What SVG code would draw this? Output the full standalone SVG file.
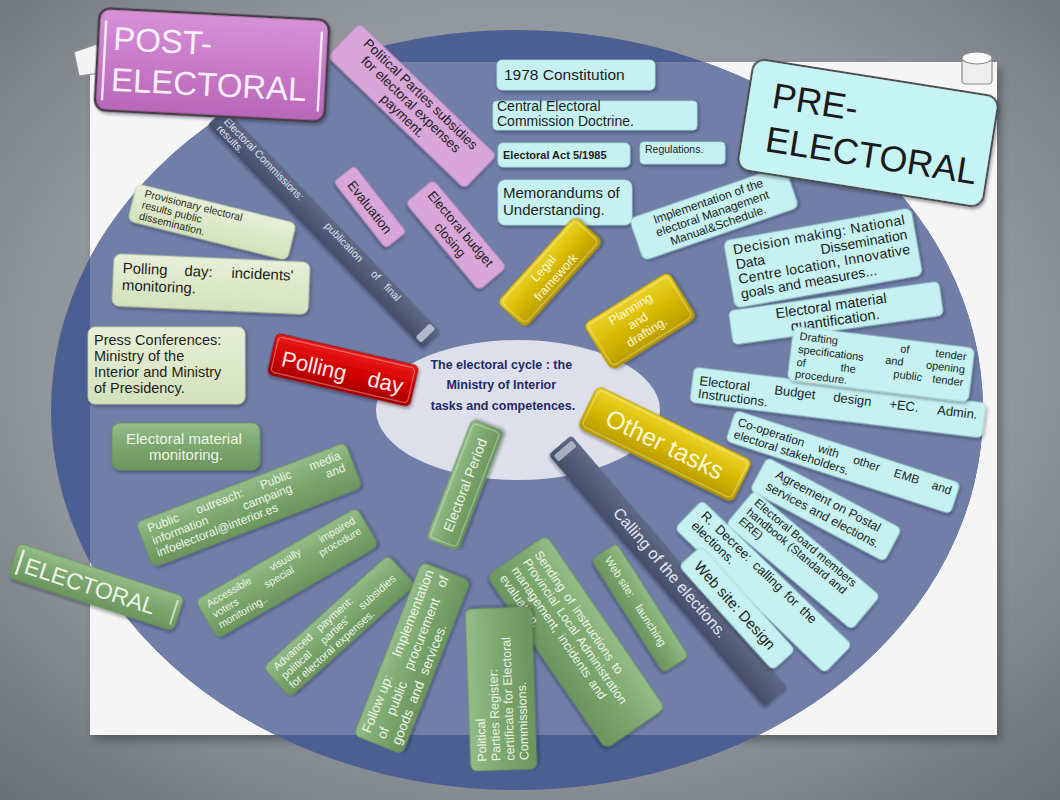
<svg xmlns="http://www.w3.org/2000/svg" width="1060" height="800" viewBox="0 0 1060 800">
<defs>
  <radialGradient id="bgGrad" cx="0.5" cy="0.45" r="0.8">
    <stop offset="0" stop-color="#b0b4ba"/>
    <stop offset="0.6" stop-color="#8f949b"/>
    <stop offset="1" stop-color="#62676e"/>
  </radialGradient>
  <clipPath id="sheetClip"><rect x="90" y="62" width="907" height="673"/></clipPath>
  <linearGradient id="gGreen" x1="0" y1="0" x2="0" y2="1">
    <stop offset="0" stop-color="#94bc87"/><stop offset="0.5" stop-color="#7ba66d"/><stop offset="1" stop-color="#6b955e"/>
  </linearGradient>
  <linearGradient id="gLight" x1="0" y1="0" x2="0" y2="1">
    <stop offset="0" stop-color="#e7f0d8"/><stop offset="1" stop-color="#d3e1bb"/>
  </linearGradient>
  <linearGradient id="gYellow" x1="0" y1="0" x2="0" y2="1">
    <stop offset="0" stop-color="#edd42c"/><stop offset="0.5" stop-color="#d6b900"/><stop offset="1" stop-color="#b89b00"/>
  </linearGradient>
  <linearGradient id="gRed" x1="0" y1="0" x2="0" y2="1">
    <stop offset="0" stop-color="#ec1c1c"/><stop offset="0.5" stop-color="#d20000"/><stop offset="1" stop-color="#a80000"/>
  </linearGradient>
  <linearGradient id="gPost" x1="0" y1="0" x2="0" y2="1">
    <stop offset="0" stop-color="#d793d7"/><stop offset="0.5" stop-color="#c87ac8"/><stop offset="1" stop-color="#b867b8"/>
  </linearGradient>
  <linearGradient id="gBar" x1="0" y1="0" x2="0" y2="1">
    <stop offset="0" stop-color="#606a88"/><stop offset="1" stop-color="#444d68"/>
  </linearGradient>
  <filter id="drop" x="-20%" y="-30%" width="140%" height="170%">
    <feDropShadow dx="1.5" dy="2" stdDeviation="1.6" flood-color="#141a30" flood-opacity="0.4"/>
  </filter>
  <filter id="sheetShadow" x="-5%" y="-5%" width="110%" height="110%">
    <feGaussianBlur stdDeviation="4"/>
  </filter>
</defs>
<style>
  .t{font-family:"Liberation Sans",Arial,Helvetica,sans-serif}
  .dk{fill:#1d1d1d}
  .wt{fill:#eef5e8}
  .cy{fill:#c5f1f0;stroke:#a6dada;stroke-width:0.8}
  .pk{fill:#d8a6d8;stroke:#c393c3;stroke-width:0.8}
  .lg{fill:url(#gLight);stroke:#c2d2a8;stroke-width:0.8}
  .gr{fill:url(#gGreen);stroke:#6a925c;stroke-width:0.8}
  .yl{fill:url(#gYellow);stroke:#a88e00;stroke-width:0.8}
  .bar{fill:url(#gBar)}
  .hl{fill:none;stroke:#ffffff;stroke-opacity:0.35;stroke-width:1.2}
</style>

<!-- backdrop and paper sheet -->
<rect width="1060" height="800" fill="url(#bgGrad)"/>
<rect x="94" y="68" width="907" height="673" fill="#2c3038" opacity="0.45" filter="url(#sheetShadow)"/>
<rect x="90" y="62" width="907" height="673" fill="#f5f5f5"/>

<!-- large disc, darker where it runs off the sheet -->
<ellipse cx="517" cy="410" rx="466" ry="380" fill="#4b5f92"/>
<ellipse cx="517" cy="410" rx="466" ry="380" fill="#707ea8" clip-path="url(#sheetClip)"/>

<!-- pins -->
<path d="M74,52 L97,44 L100,73 L79,76 Z" fill="#f3f3f3" stroke="#8d8d8d" stroke-width="1.2"/>
<g id="pin-right">
  <rect x="962" y="58" width="30" height="26" rx="4" fill="#eeeeee" stroke="#8a8a8a" stroke-width="1.2"/>
  <ellipse cx="977" cy="58" rx="15" ry="6" fill="#fafafa" stroke="#8a8a8a" stroke-width="1.2"/>
</g>

<!-- hub -->
<g id="hub">
  <ellipse cx="518" cy="410" rx="142" ry="70" fill="#dde0ea"/>
  <text class="t" font-weight="bold" font-size="12.5" fill="#1f2a66" text-anchor="middle">
    <tspan x="503" y="369">The electoral cycle : the</tspan>
    <tspan x="503" y="389">Ministry of  Interior</tspan>
    <tspan x="503" y="410">tasks and competences.</tspan>
  </text>
</g>

<!-- post-electoral branch -->
<g id="n-final-results" transform="translate(324,228) rotate(46)">
  <rect class="bar" x="-155" y="-12" width="310" height="24" rx="3" filter="url(#drop)"/>
  <rect x="142" y="-10" width="8" height="20" rx="2" fill="#c9cfdc" opacity="0.8"/>
  <g class="t" font-size="10.5" fill="#dfe3ee">
    <text x="-146" y="-1">Electoral Commissions:</text>
    <text x="24" y="-1" text-anchor="middle">publication</text>
    <text x="70" y="-1" text-anchor="middle">of</text>
    <text x="84" y="-1">final</text>
    <text x="-146" y="9">results.</text>
  </g>
</g>

<g id="n-subsidies-payment" transform="translate(412,106) rotate(44)">
  <rect class="pk" x="-95" y="-23" width="190" height="46" rx="5" filter="url(#drop)"/>
  <text class="t dk" font-size="13.5" text-anchor="middle">
    <tspan x="0" y="-10">Political Parties subsidies</tspan>
    <tspan x="0" y="4">for electoral expenses</tspan>
    <tspan x="0" y="18">payment.</tspan>
  </text>
</g>

<g id="n-evaluation" transform="translate(370,207) rotate(52)">
  <rect class="pk" x="-42" y="-13" width="84" height="26" rx="4" filter="url(#drop)"/>
  <text class="t dk" font-size="13.5" text-anchor="middle" x="0" y="5">Evaluation</text>
</g>

<g id="n-budget-closing" transform="translate(456,235) rotate(50)">
  <rect class="pk" x="-57" y="-18" width="114" height="36" rx="5" filter="url(#drop)"/>
  <text class="t dk" font-size="13" text-anchor="middle">
    <tspan x="0" y="-3">Electoral budget</tspan>
    <tspan x="0" y="12">closing</tspan>
  </text>
</g>

<g id="n-provisional-results" transform="translate(212,222) rotate(14)">
  <rect class="lg" x="-82" y="-19" width="164" height="38" rx="6" filter="url(#drop)"/>
  <text class="t" font-size="10.5" fill="#2a2a2a">
    <tspan x="-72" y="-8">Provisionary electoral</tspan>
    <tspan x="-72" y="3.5">results public</tspan>
    <tspan x="-72" y="15">dissemination.</tspan>
  </text>
</g>

<g id="n-incidents" transform="translate(211,284) rotate(2.5)">
  <rect class="lg" x="-98" y="-26" width="196" height="52" rx="7" filter="url(#drop)"/>
  <g class="t dk" font-size="15">
    <text x="-89" y="-7">Polling</text>
    <text x="-13" y="-7" text-anchor="middle">day:</text>
    <text x="82" y="-7" text-anchor="end">incidents'</text>
    <text x="-89" y="10">monitoring.</text>
  </g>
</g>

<g id="n-press">
  <rect class="lg" x="88" y="327" width="157" height="77" rx="7" filter="url(#drop)"/>
  <text class="t dk" font-size="14.5">
    <tspan x="94" y="345">Press Conferences:</tspan>
    <tspan x="94" y="361">Ministry of the</tspan>
    <tspan x="94" y="377">Interior and Ministry</tspan>
    <tspan x="94" y="393">of Presidency.</tspan>
  </text>
</g>

<!-- legal framework branch -->
<g id="n-constitution">
  <rect class="cy" x="497" y="60" width="158" height="30" rx="5" filter="url(#drop)"/>
  <text class="t dk" font-size="15.5" x="504" y="80">1978 Constitution</text>
</g>
<g id="n-doctrine">
  <rect class="cy" x="493" y="101" width="204" height="29" rx="4" filter="url(#drop)"/>
  <text class="t dk" font-size="14">
    <tspan x="497" y="111">Central Electoral</tspan>
    <tspan x="497" y="126">Commission Doctrine.</tspan>
  </text>
</g>
<g id="n-electoral-act">
  <rect class="cy" x="498" y="143" width="132" height="24" rx="5" filter="url(#drop)"/>
  <text class="t dk" font-size="11" font-weight="bold" x="503" y="159">Electoral  Act  5/1985</text>
</g>
<g id="n-regulations">
  <rect class="cy" x="640" y="142" width="85" height="22" rx="4" filter="url(#drop)"/>
  <text class="t dk" font-size="10.5" x="645" y="153">Regulations.</text>
</g>
<g id="n-mou">
  <rect class="cy" x="498" y="180" width="134" height="45" rx="7" filter="url(#drop)"/>
  <text class="t dk" font-size="15">
    <tspan x="503" y="198">Memorandums of</tspan>
    <tspan x="503" y="215">Understanding.</tspan>
  </text>
</g>
<g id="n-legal" transform="translate(550,272) rotate(-48)">
  <rect class="yl" x="-58" y="-19" width="116" height="38" rx="6" filter="url(#drop)"/>
  <rect class="hl" x="-55" y="-16" width="110" height="32" rx="5"/>
  <text class="t" font-size="12.5" fill="#fff8d8" text-anchor="middle">
    <tspan x="0" y="-3">Legal</tspan>
    <tspan x="0" y="12">framework</tspan>
  </text>
</g>

<!-- planning branch -->
<g id="n-implementation" transform="translate(714,213) rotate(-19)">
  <rect class="cy" x="-82" y="-22" width="164" height="44" rx="6" filter="url(#drop)"/>
  <text class="t dk" font-size="12" text-anchor="middle">
    <tspan x="0" y="-9">Implementation of the</tspan>
    <tspan x="0" y="4">electoral Management</tspan>
    <tspan x="0" y="17">Manual&amp;Schedule.</tspan>
  </text>
</g>
<g id="n-decision" transform="translate(823,258) rotate(-10)">
  <rect class="cy" x="-95" y="-34" width="190" height="68" rx="6" filter="url(#drop)"/>
  <g class="t dk" font-size="14">
    <text x="-87" y="-19" textLength="174" lengthAdjust="spacing">Decision making: National</text>
    <text x="-87" y="-4">Data</text>
    <text x="87" y="-4" text-anchor="end">Dissemination</text>
    <text x="-87" y="11" textLength="174" lengthAdjust="spacing">Centre location, Innovative</text>
    <text x="-87" y="26">goals and measures...</text>
  </g>
</g>
<g id="n-material-quantification" transform="translate(836,313) rotate(-8)">
  <rect class="cy" x="-106" y="-17" width="212" height="34" rx="5" filter="url(#drop)"/>
  <text class="t dk" font-size="14.5" text-anchor="middle">
    <tspan x="-2" y="-3">Electoral material</tspan>
    <tspan x="-2" y="12">quantification.</tspan>
  </text>
</g>
<g id="n-budget-design" transform="translate(838,402) rotate(7)">
  <rect class="cy" x="-147" y="-17" width="294" height="35" rx="5" filter="url(#drop)"/>
  <g class="t dk" font-size="13">
    <text x="-140" y="0">Electoral</text>
    <text x="-44" y="0" text-anchor="middle">Budget</text>
    <text x="14" y="0" text-anchor="middle">design</text>
    <text x="66" y="0" text-anchor="middle">+EC.</text>
    <text x="140" y="0" text-anchor="end">Admin.</text>
    <text x="-140" y="13">Instructions.</text>
  </g>
</g>
<g id="n-tender" transform="translate(881,364) rotate(7)">
  <rect class="cy" x="-91" y="-27" width="182" height="54" rx="6" filter="url(#drop)"/>
  <g class="t dk" font-size="11">
    <text x="-84" y="-14">Drafting</text>
    <text x="22" y="-14" text-anchor="middle">of</text>
    <text x="84" y="-14" text-anchor="end">tender</text>
    <text x="-84" y="-1">specifications</text>
    <text x="13" y="-1" text-anchor="middle">and</text>
    <text x="84" y="-1" text-anchor="end">opening</text>
    <text x="-84" y="12">of</text>
    <text x="-32" y="12" text-anchor="middle">the</text>
    <text x="28" y="12" text-anchor="middle">public</text>
    <text x="84" y="12" text-anchor="end">tender</text>
    <text x="-84" y="24">procedure.</text>
  </g>
</g>
<g id="n-planning" transform="translate(640,321) rotate(-32)">
  <rect class="yl" x="-50" y="-27" width="100" height="54" rx="6" filter="url(#drop)"/>
  <rect class="hl" x="-47" y="-24" width="94" height="48" rx="5"/>
  <text class="t" font-size="12.5" fill="#fff8d8" text-anchor="middle">
    <tspan x="0" y="-11">Planning</tspan>
    <tspan x="0" y="3">and</tspan>
    <tspan x="0" y="17">drafting.</tspan>
  </text>
</g>

<!-- other tasks branch -->
<g id="n-calling" transform="translate(668,571) rotate(49.4)">
  <rect class="bar" x="-166" y="-15" width="332" height="30" rx="4" filter="url(#drop)"/>
  <rect x="-162" y="-12" width="8" height="24" rx="2" fill="#c3c9d8" opacity="0.75"/>
  <text class="t" font-size="16" fill="#e4e7f1" x="-80" y="5">Calling of the elections.</text>
</g>
<g id="n-cooperation" transform="translate(843,462) rotate(18)">
  <rect class="cy" x="-118" y="-16" width="236" height="32" rx="5" filter="url(#drop)"/>
  <g class="t dk" font-size="12">
    <text x="-112" y="-2">Co-operation</text>
    <text x="-17" y="-2" text-anchor="middle">with</text>
    <text x="23" y="-2" text-anchor="middle">other</text>
    <text x="65" y="-2" text-anchor="middle">EMB</text>
    <text x="112" y="-2" text-anchor="end">and</text>
    <text x="-112" y="11">electoral stakeholders.</text>
  </g>
</g>
<g id="n-postal" transform="translate(826,509) rotate(28)">
  <rect class="cy" x="-76" y="-18" width="152" height="37" rx="5" filter="url(#drop)"/>
  <text class="t dk" font-size="12.5" text-anchor="middle">
    <tspan x="0" y="-4">Agreement on Postal</tspan>
    <tspan x="0" y="11">services and elections.</tspan>
  </text>
</g>
<g id="n-handbook" transform="translate(803,560) rotate(40)">
  <rect class="cy" x="-82" y="-22" width="164" height="44" rx="5" filter="url(#drop)"/>
  <text class="t dk" font-size="11.5">
    <tspan x="-74" y="-11">Electoral Board members</tspan>
    <tspan x="-74" y="1">handbook (Standard and</tspan>
    <tspan x="-74" y="13">ERE)</tspan>
  </text>
</g>
<g id="n-decree" transform="translate(763,587) rotate(44)">
  <rect class="cy" x="-104" y="-20" width="208" height="39" rx="5" filter="url(#drop)"/>
  <text class="t dk" font-size="13" word-spacing="3">
    <tspan x="-94" y="-7">R. Decree: calling for the</tspan>
    <tspan x="-94" y="7">elections.</tspan>
  </text>
</g>
<g id="n-web-design" transform="translate(737,608) rotate(48)">
  <rect class="cy" x="-70" y="-15" width="140" height="30" rx="5" filter="url(#drop)"/>
  <text class="t dk" font-size="15" x="-60" y="5">Web site: Design</text>
</g>
<g id="n-other" transform="translate(665,444) rotate(26)">
  <rect class="yl" x="-86" y="-23" width="172" height="46" rx="6" filter="url(#drop)"/>
  <rect class="hl" x="-83" y="-20" width="166" height="40" rx="5"/>
  <text class="t" font-size="25" fill="#fff8d8" text-anchor="middle" x="0" y="9">Other tasks</text>
</g>

<!-- electoral branch -->
<g id="n-polling-day" transform="translate(343,370) rotate(13)">
  <rect x="-73" y="-21" width="146" height="42" rx="5" fill="url(#gRed)" stroke="#8a0000" stroke-width="0.8" filter="url(#drop)"/>
  <rect class="hl" x="-70" y="-18" width="140" height="36" rx="4"/>
  <g class="t" font-size="22" fill="#ffecec">
    <text x="-62" y="10">Polling</text>
    <text x="62" y="10" text-anchor="end">day</text>
  </g>
</g>
<g id="n-period" transform="translate(465,485) rotate(-69)">
  <rect class="gr" x="-64" y="-17" width="128" height="34" rx="5" filter="url(#drop)"/>
  <rect class="hl" x="-61" y="-14" width="122" height="28" rx="4"/>
  <text class="t wt" font-size="14" text-anchor="middle" x="0" y="5">Electoral Period</text>
</g>
<g id="n-material-monitoring">
  <rect class="gr" x="112" y="423" width="148" height="47" rx="8" filter="url(#drop)"/>
  <text class="t wt" font-size="15" text-anchor="middle">
    <tspan x="186" y="444">Electoral material</tspan>
    <tspan x="186" y="460">monitoring.</tspan>
  </text>
</g>
<g id="n-outreach" transform="translate(249,505) rotate(-21)">
  <rect class="gr" x="-112" y="-24" width="224" height="48" rx="6" filter="url(#drop)"/>
  <g class="t wt" font-size="12">
    <text x="-103" y="-10">Public</text>
    <text x="-26" y="-10" text-anchor="middle">outreach:</text>
    <text x="34" y="-10" text-anchor="middle">Public</text>
    <text x="103" y="-10" text-anchor="end">media</text>
    <text x="-103" y="3">information</text>
    <text x="20" y="3" text-anchor="middle">campaing</text>
    <text x="103" y="3" text-anchor="end">and</text>
    <text x="-103" y="16">infoelectoral@interior.es</text>
  </g>
</g>
<g id="n-accessible" transform="translate(287,573) rotate(-30)">
  <rect class="gr" x="-93" y="-22" width="186" height="44" rx="6" filter="url(#drop)"/>
  <g class="t wt" font-size="10.5">
    <text x="-85" y="-9">Accessible</text>
    <text x="5" y="-9" text-anchor="middle">visually</text>
    <text x="85" y="-9" text-anchor="end">impaired</text>
    <text x="-85" y="3">voters</text>
    <text x="-9" y="3" text-anchor="middle">special</text>
    <text x="85" y="3" text-anchor="end">procedure</text>
    <text x="-85" y="15">monitoring..</text>
  </g>
</g>
<g id="n-advance" transform="translate(339,626) rotate(-42)">
  <rect class="gr" x="-84" y="-20" width="168" height="40" rx="6" filter="url(#drop)"/>
  <g class="t wt" font-size="11">
    <text x="-76" y="-8" word-spacing="6">Advanced payment:</text>
    <text x="-76" y="4">political</text>
    <text x="-6" y="4" text-anchor="middle">parties'</text>
    <text x="74" y="4" text-anchor="end">subsidies</text>
    <text x="-76" y="16">for electoral expenses.</text>
  </g>
</g>
<g id="n-sending" transform="translate(576,642) rotate(55.5)">
  <rect class="gr" x="-105" y="-36" width="210" height="72" rx="7" filter="url(#drop)"/>
  <text class="t wt" font-size="12.5" word-spacing="2">
    <tspan x="-96" y="-15">Sending of instructions to</tspan>
    <tspan x="-96" y="-1">Provincial Local Administration</tspan>
    <tspan x="-96" y="13">management, incidents and</tspan>
    <tspan x="-96" y="27">evaluation.</tspan>
  </text>
</g>
<g id="n-follow-up" transform="translate(412,658) rotate(-68.5)">
  <rect class="gr" x="-93" y="-26" width="186" height="52" rx="6" filter="url(#drop)"/>
  <g class="t wt" font-size="13.5">
    <text x="-86" y="-11">Follow up:</text>
    <text x="88" y="-11" text-anchor="end">Implementation</text>
    <text x="-86" y="5">of</text>
    <text x="-43" y="5" text-anchor="middle">public</text>
    <text x="26" y="5" text-anchor="middle">procurement</text>
    <text x="88" y="5" text-anchor="end">of</text>
    <text x="-86" y="21" word-spacing="4">goods and services.</text>
  </g>
</g>
<g id="n-register" transform="translate(501,689) rotate(-92)">
  <rect class="gr" x="-81" y="-33" width="162" height="66" rx="6" filter="url(#drop)"/>
  <text class="t wt" font-size="12.5">
    <tspan x="-72" y="-17">Political</tspan>
    <tspan x="-72" y="-3">Parties Register:</tspan>
    <tspan x="-72" y="11">certificate for Electoral</tspan>
    <tspan x="-72" y="25">Commissions.</tspan>
  </text>
</g>
<g id="n-web-launch" transform="translate(640,608) rotate(57.5)">
  <rect class="gr" x="-67" y="-15" width="134" height="30" rx="5" filter="url(#drop)"/>
  <g class="t wt" font-size="11">
    <text x="-60" y="4">Web site:</text>
    <text x="44" y="4" text-anchor="end">launching</text>
  </g>
</g>

<!-- phase labels -->
<g id="label-electoral" transform="translate(96,587) rotate(18)">
  <rect class="gr" x="-87" y="-18" width="174" height="36" rx="6" filter="url(#drop)"/>
  <line x1="-80" y1="-12" x2="-80" y2="12" stroke="#ffffff" stroke-width="2.5" stroke-linecap="round" opacity="0.8"/>
  <line x1="82" y1="-12" x2="82" y2="12" stroke="#ffffff" stroke-width="2" stroke-linecap="round" opacity="0.6"/>
  <text class="t wt" font-size="23" x="-74" y="9">ELECTORAL</text>
</g>
<g id="label-post-electoral" transform="translate(212,65) rotate(3)">
  <rect x="-115" y="-51" width="230" height="102" rx="11" fill="url(#gPost)" stroke="#463c46" stroke-width="2.5" filter="url(#drop)"/>
  <line x1="-108" y1="-38" x2="-108" y2="40" stroke="#ffffff" stroke-width="2.5" stroke-linecap="round" opacity="0.8"/>
  <line x1="108" y1="-38" x2="108" y2="40" stroke="#ffffff" stroke-width="2.5" stroke-linecap="round" opacity="0.8"/>
  <text class="t" font-size="33" fill="#fbeffb">
    <tspan x="-100" y="-10">POST-</tspan>
    <tspan x="-100" y="31">ELECTORAL</tspan>
  </text>
</g>
<g id="label-pre-electoral" transform="translate(868,133) rotate(9)">
  <rect x="-124" y="-56" width="248" height="112" rx="12" fill="#c6f3f3" stroke="#4d4d4d" stroke-width="2" filter="url(#drop)"/>
  <text class="t" font-size="36" fill="#1a1a1a">
    <tspan x="-100" y="-10">PRE-</tspan>
    <tspan x="-100" y="34">ELECTORAL</tspan>
  </text>
</g>
</svg>
